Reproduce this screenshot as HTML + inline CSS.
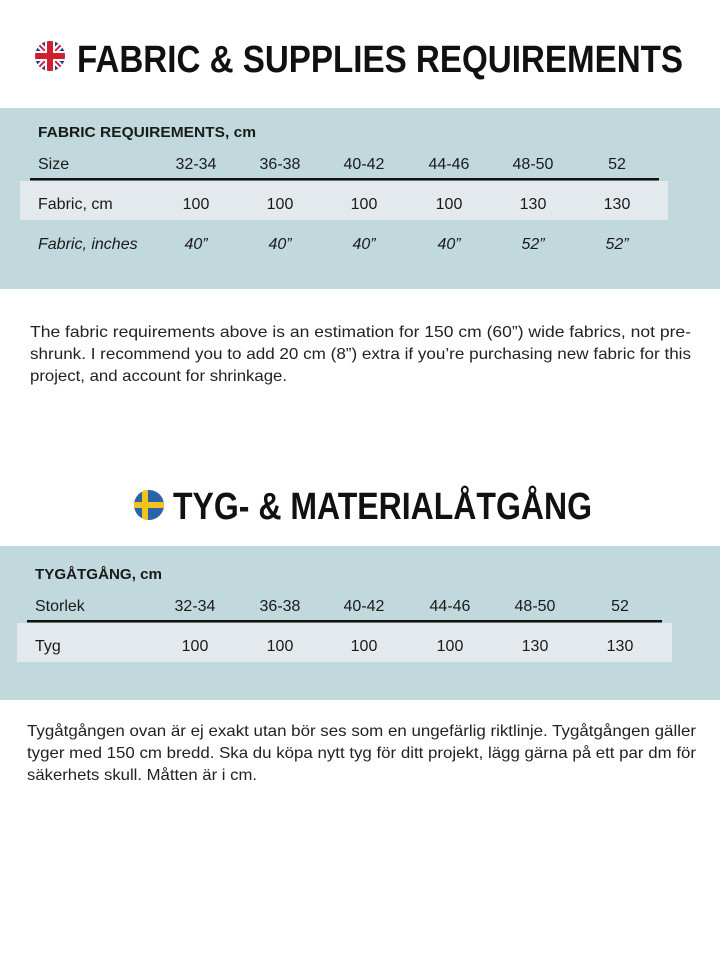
<!DOCTYPE html>
<html><head><meta charset="utf-8"><style>
html,body{margin:0;padding:0;background:#fff;}
svg{display:block;}
text{font-family:"Liberation Sans",sans-serif;fill:#1a1a1a;}
.t{font-weight:bold;font-size:38px;fill:#111;}
.h{font-weight:bold;font-size:15px;}
.c{font-size:16px;text-anchor:middle;}
.p{font-size:16px;fill:#222;}
</style></head><body>
<svg width="720" height="960" viewBox="0 0 720 960" xmlns="http://www.w3.org/2000/svg">
<rect width="720" height="960" fill="#fff"/>
<!-- UK flag -->
<defs>
<clipPath id="uk"><circle cx="50" cy="56" r="15"/></clipPath>
<clipPath id="se"><circle cx="149" cy="505" r="15"/></clipPath>
</defs>
<g clip-path="url(#uk)">
<rect x="35" y="41" width="30" height="30" fill="#1f3f8f"/>
<line x1="35" y1="41" x2="65" y2="71" stroke="#fff" stroke-width="6"/>
<line x1="65" y1="41" x2="35" y2="71" stroke="#fff" stroke-width="6"/>
<line x1="35" y1="41" x2="65" y2="71" stroke="#d02030" stroke-width="2"/>
<line x1="65" y1="41" x2="35" y2="71" stroke="#d02030" stroke-width="2"/>
<rect x="35" y="51" width="30" height="10" fill="#fff"/>
<rect x="45" y="41" width="10" height="30" fill="#fff"/>
<rect x="35" y="53" width="30" height="6" fill="#d02030"/>
<rect x="47" y="41" width="6" height="30" fill="#d02030"/>
</g>
<text class="t" x="77" y="72" textLength="606" lengthAdjust="spacingAndGlyphs">FABRIC &amp; SUPPLIES REQUIREMENTS</text>

<rect x="0" y="108" width="720" height="181" fill="#c1d8dd"/>
<text class="h" x="38" y="137" textLength="218" lengthAdjust="spacingAndGlyphs">FABRIC REQUIREMENTS, cm</text>
<text class="c" x="38" y="169" style="text-anchor:start">Size</text>
<g class="c">
<text class="c" x="196" y="169">32-34</text><text class="c" x="280" y="169">36-38</text><text class="c" x="364" y="169">40-42</text><text class="c" x="449" y="169">44-46</text><text class="c" x="533" y="169">48-50</text><text class="c" x="617" y="169">52</text>
</g>
<rect x="30" y="178" width="629" height="2.5" fill="#111"/>
<rect x="20" y="181" width="648" height="39" fill="#e3e9ec"/>
<text class="c" x="38" y="209" style="text-anchor:start">Fabric, cm</text>
<text class="c" x="196" y="209">100</text><text class="c" x="280" y="209">100</text><text class="c" x="364" y="209">100</text><text class="c" x="449" y="209">100</text><text class="c" x="533" y="209">130</text><text class="c" x="617" y="209">130</text>
<g font-style="italic">
<text class="c" x="38" y="249" style="text-anchor:start;font-style:italic">Fabric, inches</text>
<text class="c" x="196" y="249" font-style="italic">40”</text><text class="c" x="280" y="249" font-style="italic">40”</text><text class="c" x="364" y="249" font-style="italic">40”</text><text class="c" x="449" y="249" font-style="italic">40”</text><text class="c" x="533" y="249" font-style="italic">52”</text><text class="c" x="617" y="249" font-style="italic">52”</text>
</g>

<text class="p" x="30" y="337" textLength="661" lengthAdjust="spacingAndGlyphs">The fabric requirements above is an estimation for 150 cm (60”) wide fabrics, not pre-</text>
<text class="p" x="30" y="359" textLength="661" lengthAdjust="spacingAndGlyphs">shrunk. I recommend you to add 20 cm (8”) extra if you’re purchasing new fabric for this</text>
<text class="p" x="30" y="381" textLength="257" lengthAdjust="spacingAndGlyphs">project, and account for shrinkage.</text>

<!-- SE flag -->
<g clip-path="url(#se)">
<rect x="134" y="490" width="30" height="30" fill="#2a62a8"/>
<rect x="134" y="502" width="30" height="6" fill="#f0c419"/>
<rect x="142" y="490" width="6" height="30" fill="#f0c419"/>
</g>
<text class="t" x="173" y="519" textLength="419" lengthAdjust="spacingAndGlyphs">TYG- &amp; MATERIALÅTGÅNG</text>

<rect x="0" y="546" width="720" height="154" fill="#c1d8dd"/>
<text class="h" x="35" y="579" textLength="127" lengthAdjust="spacingAndGlyphs">TYGÅTGÅNG, cm</text>
<text class="c" x="35" y="611" style="text-anchor:start">Storlek</text>
<text class="c" x="195" y="611">32-34</text><text class="c" x="280" y="611">36-38</text><text class="c" x="364" y="611">40-42</text><text class="c" x="450" y="611">44-46</text><text class="c" x="535" y="611">48-50</text><text class="c" x="620" y="611">52</text>
<rect x="27" y="620" width="635" height="2.5" fill="#111"/>
<rect x="17" y="623" width="655" height="39" fill="#e3e9ec"/>
<text class="c" x="35" y="651" style="text-anchor:start">Tyg</text>
<text class="c" x="195" y="651">100</text><text class="c" x="280" y="651">100</text><text class="c" x="364" y="651">100</text><text class="c" x="450" y="651">100</text><text class="c" x="535" y="651">130</text><text class="c" x="620" y="651">130</text>

<text class="p" x="27" y="736" textLength="669" lengthAdjust="spacingAndGlyphs">Tygåtgången ovan är ej exakt utan bör ses som en ungefärlig riktlinje. Tygåtgången gäller</text>
<text class="p" x="27" y="758" textLength="669" lengthAdjust="spacingAndGlyphs">tyger med 150 cm bredd. Ska du köpa nytt tyg för ditt projekt, lägg gärna på ett par dm för</text>
<text class="p" x="27" y="780" textLength="230" lengthAdjust="spacingAndGlyphs">säkerhets skull. Måtten är i cm.</text>
</svg>
</body></html>
